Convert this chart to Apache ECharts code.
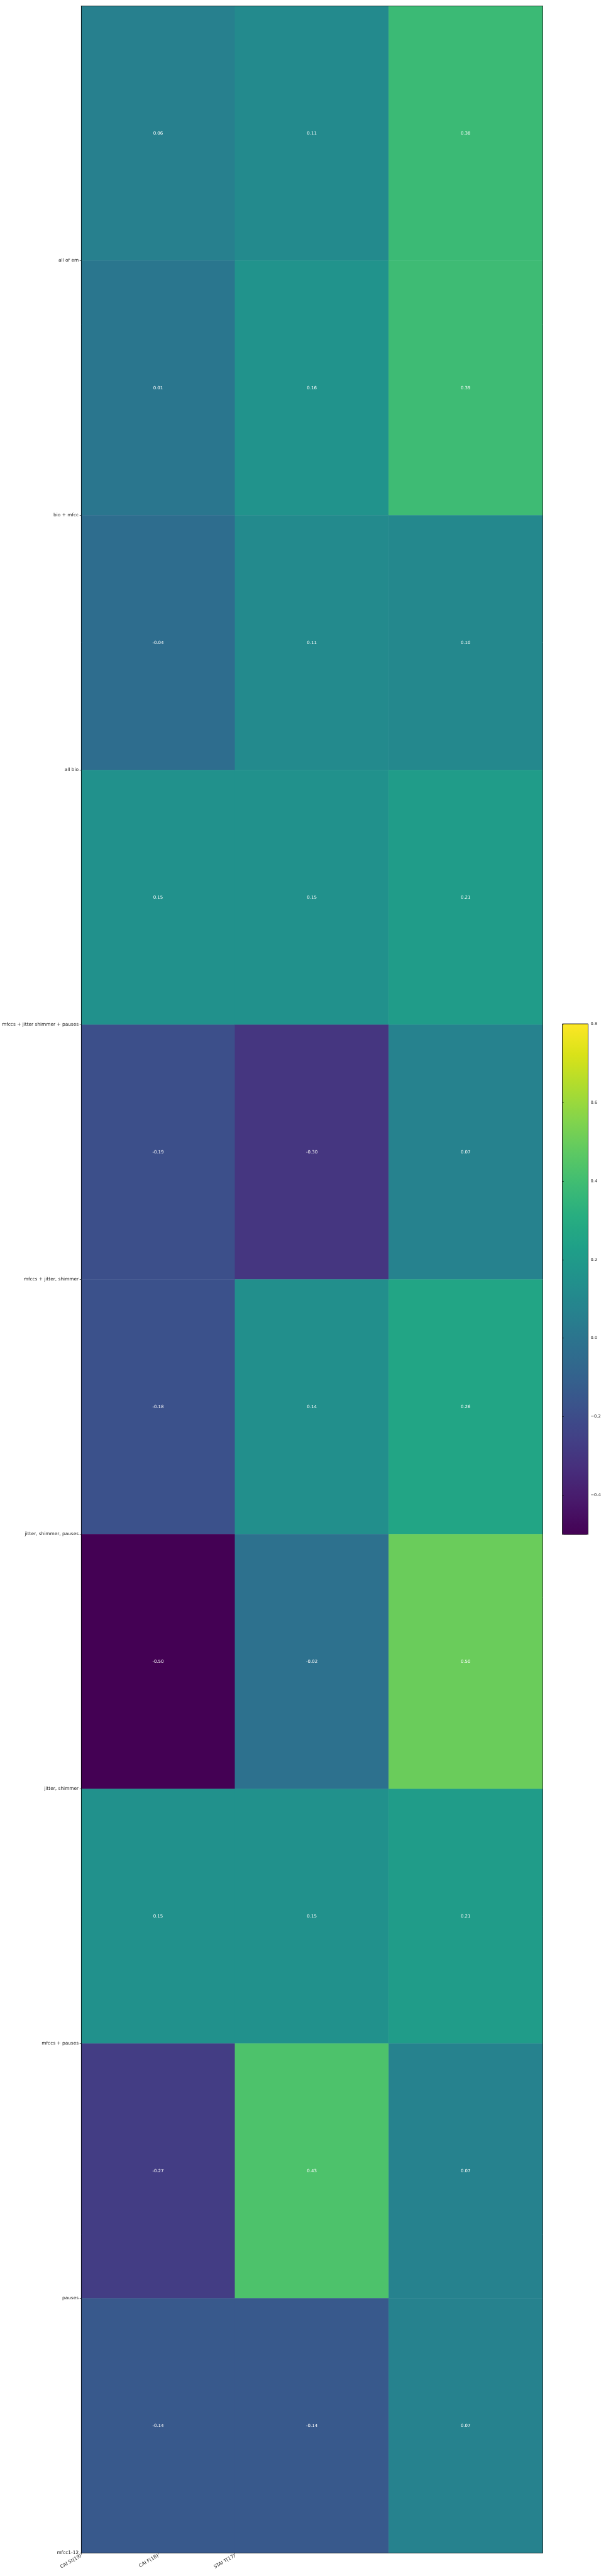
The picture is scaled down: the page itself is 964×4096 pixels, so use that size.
<!DOCTYPE html>
<html>
<head>
<meta charset="utf-8">
<script src="https://cdn.jsdelivr.net/npm/echarts@6/dist/echarts.min.js"></script>
<style>
html,body{margin:0;padding:0;background:#fff;}
#chart{width:964px;height:4096px;}
</style>
</head>
<body>
<div id="chart"></div>
<script>
const colLabels = ['CAI St(19)', 'CAI F(18)', 'STAI T(17)'];
const rowLabels = ['all of em', 'bio + mfcc', 'all bio', 'mfccs + jitter shimmer + pauses',
  'mfccs + jitter, shimmer', 'jitter, shimmer, pauses', 'jitter, shimmer', 'mfccs + pauses',
  'pauses', 'mfcc1-12'];
// values per row (top to bottom), columns in colLabels order
const colA = [0.06, 0.01, -0.04, 0.15, -0.19, -0.18, -0.50, 0.15, -0.27, -0.14];
const colB = [0.11, 0.16, 0.11, 0.15, -0.30, 0.14, -0.02, 0.15, 0.43, -0.14];
const colC = [0.38, 0.39, 0.10, 0.21, 0.07, 0.26, 0.50, 0.21, 0.07, 0.07];
const cbTicks = [-0.4, -0.2, 0.0, 0.2, 0.4, 0.6, 0.8];
const vMin = -0.5, vMax = 0.8;

const viridis = ['#440154','#48186a','#472d7b','#424086','#3b528b','#33638d','#2c728e','#26828e',
  '#21918c','#1fa088','#28ae80','#3fbc73','#5ec962','#84d44b','#addc30','#d8e219','#fde725'];

const cols = [colA, colB, colC];
const data = [];
cols.forEach((c, xi) => c.forEach((v, yi) => data.push([xi, yi, v])));

const xLabelCats = colLabels.concat(['', '', '', '']);
const yLabelCats = [''].concat(rowLabels);
const font = 'DejaVu Sans';

const chart = echarts.init(document.getElementById('chart'), null, {renderer: 'canvas'});
chart.setOption({
  animation: false,
  backgroundColor: '#fff',
  textStyle: {fontFamily: font},
  grid: [
    {left: 122.4, top: 9.4, width: 740.6, height: 4050},
    {left: 894.5, top: 1628, width: 41, height: 812, show: true, borderColor: '#000', borderWidth: 0.8, backgroundColor: 'transparent', z: 10}
  ],
  xAxis: [
    {type: 'category', gridIndex: 0, data: colLabels, position: 'top', z: 5,
      axisLine: {show: true, lineStyle: {color: '#000', width: 0.8}}, axisTick: {show: false}, axisLabel: {show: false}, splitLine: {show: false}},
    {type: 'category', gridIndex: 0, data: xLabelCats, boundaryGap: false, position: 'bottom', z: 5,
      axisLine: {show: true, lineStyle: {color: '#000', width: 0.8}},
      axisTick: {show: true, length: 2.4, interval: (i) => i < 3, lineStyle: {color: '#000', width: 0.6}},
      axisLabel: {show: true, interval: (i) => i < 3, rotate: 30, fontSize: 7.4, color: '#222', margin: 4, fontFamily: font},
      splitLine: {show: false}},
    {type: 'value', gridIndex: 1, min: 0, max: 1, show: false}
  ],
  yAxis: [
    {type: 'category', gridIndex: 0, data: rowLabels, inverse: true, position: 'right', z: 5,
      axisLine: {show: true, lineStyle: {color: '#000', width: 0.8}}, axisTick: {show: false}, axisLabel: {show: false}, splitLine: {show: false}},
    {type: 'category', gridIndex: 0, data: yLabelCats, boundaryGap: false, inverse: true, position: 'left', z: 5,
      axisLine: {show: true, lineStyle: {color: '#000', width: 0.8}},
      axisTick: {show: true, length: 2.4, interval: (i) => i >= 1, lineStyle: {color: '#000', width: 0.6}},
      axisLabel: {show: true, interval: (i) => i >= 1, fontSize: 7.4, color: '#222', margin: 4, fontFamily: font},
      splitLine: {show: false}},
    {type: 'value', gridIndex: 1, min: vMin, max: vMax, position: 'right', z: 10,
      axisLine: {show: false},
      axisTick: {show: true, length: 2.4, customValues: cbTicks, lineStyle: {color: '#000', width: 0.6}},
      axisLabel: {show: true, customValues: cbTicks, fontSize: 6.7, color: '#222', margin: 4, fontFamily: font,
        formatter: (v) => (v < 0 ? '\u2212' + Math.abs(v).toFixed(1) : v.toFixed(1))},
      splitLine: {show: false}}
  ],
  visualMap: {
    type: 'continuous', seriesIndex: 0, min: vMin, max: vMax, calculable: false,
    orient: 'vertical', left: 894.5, top: 1628, itemWidth: 41, itemHeight: 812, padding: 0,
    inRange: {color: viridis}, text: null, showLabel: false
  },
  series: [{
    type: 'heatmap', xAxisIndex: 0, yAxisIndex: 0, data: data,
    label: {show: true, color: '#fff', fontSize: 7, fontFamily: font,
      formatter: (p) => p.value[2].toFixed(2)},
    itemStyle: {borderWidth: 0},
    emphasis: {disabled: true}
  }]
});
</script>
</body>
</html>
